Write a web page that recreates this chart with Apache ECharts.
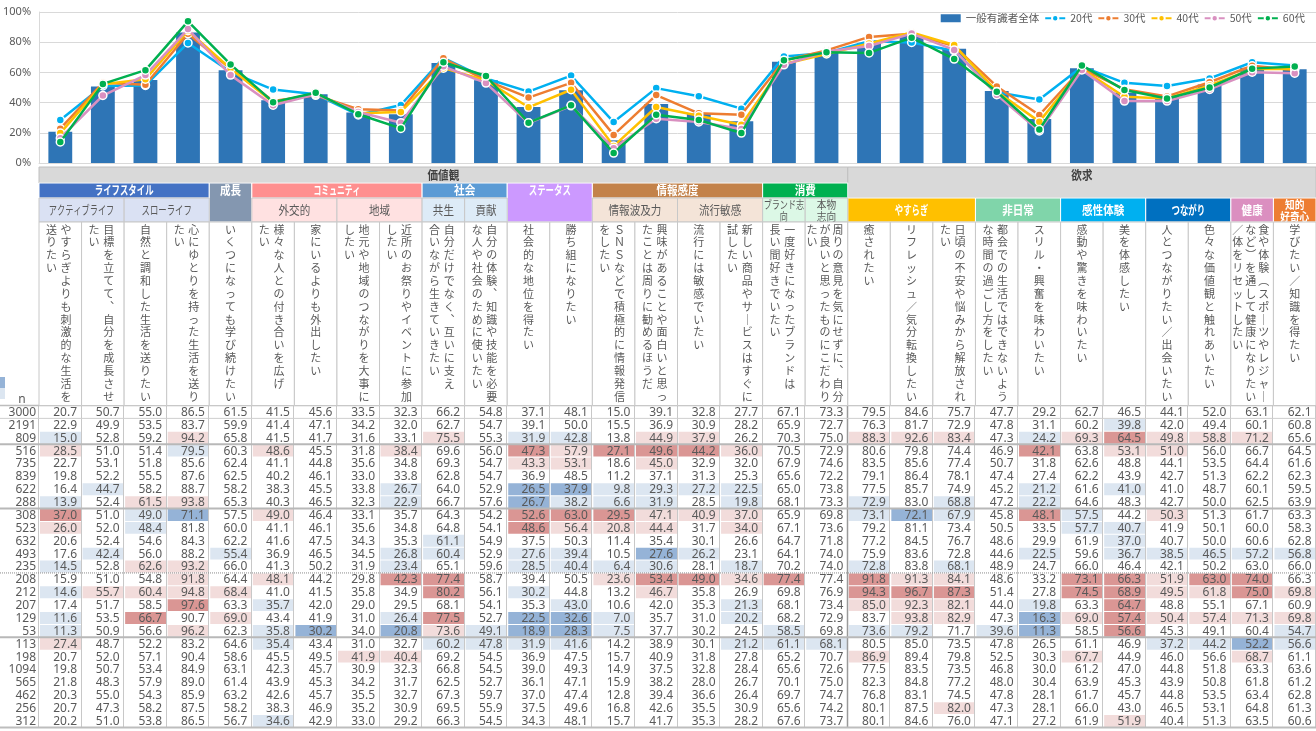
<!DOCTYPE html>
<html><head><meta charset="utf-8">
<script src="https://cdn.jsdelivr.net/npm/echarts@6/dist/echarts.min.js"></script>
<style>html,body{margin:0;padding:0;background:#fff}#c{width:1316px;height:731px}</style>
</head><body><div id="c"></div>
<script>
// ---------------- DATA ----------------
const BAR_NAME = '一般有識者全体';
const LINE_NAMES = ['20代', '30代', '40代', '50代', '60代'];
const Y_TICKS = [0, 20, 40, 60, 80, 100];

const N_VALUES = [3000, 2191, 809, 516, 735, 839, 622, 288, 308, 523, 632, 493, 235, 208, 212, 207, 129, 53, 113, 198, 1094, 565, 462, 256, 312];

const GROUP_TOTAL = [
  [20.7,50.7,55.0,86.5,61.5,41.5,45.6,33.5,32.3,66.2,54.8,37.1,48.1,15.0,39.1,32.8,27.7,67.1,73.3,79.5,84.6,75.7,47.7,29.2,62.7,46.5,44.1,52.0,63.1,62.1],
  [22.9,49.9,53.5,83.7,59.9,41.4,47.1,34.2,32.0,62.7,54.7,39.1,50.0,15.5,36.9,30.9,28.2,65.9,72.7,76.3,81.7,72.9,47.8,31.1,60.2,39.8,42.0,49.4,60.1,60.8],
  [15.0,52.8,59.2,94.2,65.8,41.5,41.7,31.6,33.1,75.5,55.3,31.9,42.8,13.8,44.9,37.9,26.2,70.3,75.0,88.3,92.6,83.4,47.3,24.2,69.3,64.5,49.8,58.8,71.2,65.6]
];
const GROUP_AGE = [
  [28.5,51.0,51.4,79.5,60.3,48.6,45.5,31.8,38.4,69.6,56.0,47.3,57.9,27.1,49.6,44.2,36.0,70.5,72.9,80.6,79.8,74.4,46.9,42.1,63.8,53.1,51.0,56.0,66.7,64.5],
  [22.7,53.1,51.8,85.6,62.4,41.1,44.8,35.6,34.8,69.3,54.7,43.3,53.1,18.6,45.0,32.9,32.0,67.9,74.6,83.5,85.6,77.4,50.7,31.8,62.6,48.8,44.1,53.5,64.4,61.6],
  [19.8,52.2,55.5,87.6,62.5,40.2,46.1,33.0,33.8,62.8,54.7,36.9,48.5,11.2,37.1,31.3,25.3,65.6,72.2,79.1,86.4,78.1,47.4,27.4,62.2,43.9,42.7,51.3,62.2,62.3],
  [16.4,44.7,58.2,88.7,58.2,38.3,45.5,33.8,26.7,64.0,52.9,26.5,37.9,9.8,29.3,27.2,22.5,65.0,73.8,77.5,85.7,74.9,45.2,21.2,61.6,41.0,41.0,48.7,60.1,59.5],
  [13.9,52.4,61.5,93.8,65.3,40.3,46.5,32.3,22.9,66.7,57.6,26.7,38.2,6.6,31.9,28.5,19.8,68.1,73.3,72.9,83.0,68.8,47.2,22.2,64.6,48.3,42.7,50.0,62.5,63.9]
];
const GROUP_B = [
  [37.0,51.0,49.0,71.1,57.5,49.0,46.4,33.1,35.7,64.3,54.2,52.6,63.0,29.5,47.1,40.9,37.0,65.9,69.8,73.1,72.1,67.9,45.8,48.1,57.5,44.2,50.3,51.3,61.7,63.3],
  [26.0,52.0,48.4,81.8,60.0,41.1,46.1,35.6,34.8,64.8,54.1,48.6,56.4,20.8,44.4,31.7,34.0,67.1,73.6,79.2,81.1,73.4,50.5,33.5,57.7,40.7,41.9,50.1,60.0,58.3],
  [20.6,52.4,54.6,84.3,62.2,41.6,47.5,34.3,35.3,61.1,54.9,37.5,50.3,11.4,35.4,30.1,26.6,64.7,71.8,77.2,84.5,76.7,48.6,29.9,61.9,37.0,40.7,50.0,60.6,62.8],
  [17.6,42.4,56.0,88.2,55.4,36.9,46.5,34.5,26.8,60.4,52.9,27.6,39.4,10.5,27.6,26.2,23.1,64.1,74.0,75.9,83.6,72.8,44.6,22.5,59.6,36.7,38.5,46.5,57.2,56.8],
  [14.5,52.8,62.6,93.2,66.0,41.3,50.2,31.9,23.4,65.1,59.6,28.5,40.4,6.4,30.6,28.1,18.7,70.2,74.0,72.8,83.8,68.1,48.9,24.7,66.0,46.4,42.1,50.2,63.0,66.0]
];
const GROUP_C = [
  [15.9,51.0,54.8,91.8,64.4,48.1,44.2,29.8,42.3,77.4,58.7,39.4,50.5,23.6,53.4,49.0,34.6,77.4,77.4,91.8,91.3,84.1,48.6,33.2,73.1,66.3,51.9,63.0,74.0,66.3],
  [14.6,55.7,60.4,94.8,68.4,41.0,41.5,35.8,34.9,80.2,56.1,30.2,44.8,13.2,46.7,35.8,26.9,69.8,76.9,94.3,96.7,87.3,51.4,27.8,74.5,68.9,49.5,61.8,75.0,69.8],
  [17.4,51.7,58.5,97.6,63.3,35.7,42.0,29.0,29.5,68.1,54.1,35.3,43.0,10.6,42.0,35.3,21.3,68.1,73.4,85.0,92.3,82.1,44.0,19.8,63.3,64.7,48.8,55.1,67.1,60.9],
  [11.6,53.5,66.7,90.7,69.0,43.4,41.9,31.0,26.4,77.5,52.7,22.5,32.6,7.0,35.7,31.0,20.2,68.2,72.9,83.7,93.8,82.9,47.3,16.3,69.0,57.4,50.4,57.4,71.3,69.8],
  [11.3,50.9,56.6,96.2,62.3,35.8,30.2,34.0,20.8,73.6,49.1,18.9,28.3,7.5,37.7,30.2,24.5,58.5,69.8,73.6,79.2,71.7,39.6,11.3,58.5,56.6,45.3,49.1,60.4,54.7]
];
const GROUP_D = [
  [27.4,48.7,52.2,83.2,64.6,35.4,43.4,31.0,32.7,60.2,47.8,31.9,41.6,14.2,38.9,30.1,21.2,61.1,68.1,80.5,85.0,73.5,47.8,26.5,61.1,46.9,37.2,44.2,52.2,56.6],
  [20.7,52.0,57.1,90.4,58.6,45.5,49.5,41.9,40.4,69.2,54.5,36.9,47.5,15.7,40.9,31.8,27.8,65.2,70.7,86.9,89.4,79.8,52.5,30.3,67.7,44.9,46.0,56.6,68.7,61.1],
  [19.8,50.7,53.4,84.9,63.1,42.3,45.7,30.9,32.3,66.8,54.5,39.0,49.3,14.9,37.5,32.8,28.4,65.6,72.6,77.5,83.5,73.5,46.8,30.0,61.2,47.0,44.8,51.8,63.3,63.6],
  [21.8,48.3,57.9,89.0,61.4,43.9,45.3,34.2,31.7,62.5,52.7,36.1,47.1,15.9,38.2,28.0,26.7,70.1,75.0,82.3,84.8,77.2,48.0,30.4,63.9,45.3,43.9,50.8,61.8,61.2],
  [20.3,55.0,54.3,85.9,63.2,42.6,45.7,35.5,32.7,67.3,59.7,37.0,47.4,12.8,39.4,36.6,26.4,69.7,74.7,76.8,83.1,74.5,47.8,28.1,61.7,45.7,44.8,53.5,63.4,62.8],
  [20.7,47.3,58.2,87.5,58.2,38.3,46.9,35.2,30.9,69.5,55.9,37.5,49.6,16.8,42.6,35.5,30.9,65.6,74.2,80.1,87.5,82.0,47.3,28.1,66.0,43.0,46.5,53.1,64.8,61.3],
  [20.2,51.0,53.8,86.5,56.7,34.6,42.9,33.0,29.2,66.3,54.5,34.3,48.1,15.7,41.7,35.3,28.2,67.6,73.7,80.1,84.6,76.0,47.1,27.2,61.9,51.9,40.4,51.3,63.5,60.6]
];

// column header texts (vertical lines, right-most first)
const COLUMN_TEXT = [
  ['やすらぎよりも刺激的な生活を','送りたい'],
  ['目標を立てて、自分を成長させ','たい'],
  ['自然と調和した生活を送りたい'],
  ['心にゆとりを持った生活を送り','たい'],
  ['いくつになっても学び続けたい'],
  ['様々な人との付き合いを広げ','たい'],
  ['家にいるよりも外出したい'],
  ['地元や地域のつながりを大事に','したい'],
  ['近所のお祭りやイベントに参加','したい'],
  ['自分だけでなく、互いに支え','合いながら生きていきたい'],
  ['自分の体験、知識や技能を必要','な人や社会のために使いたい'],
  ['社会的な地位を得たい'],
  ['勝ち組になりたい'],
  ['ＳＮＳなどで積極的に情報発信','をしたい'],
  ['興味があることや面白いと思っ','たことは周りに勧めるほうだ'],
  ['流行には敏感でいたい'],
  ['新しい商品やサービスはすぐに','試したい'],
  ['一度好きになったブランドは','長い間好きでいたい'],
  ['周りの意見を気にせずに、自分','が良いと思ったものにこだわり','たい'],
  ['癒されたい'],
  ['リフレッシュ／気分転換したい'],
  ['日頃の不安や悩みから解放され','たい'],
  ['都会での生活ではできないよう','な時間の過ごし方をしたい'],
  ['スリル・興奮を味わいたい'],
  ['感動や驚きを味わいたい'],
  ['美を体感したい'],
  ['人とつながりたい／出会いたい'],
  ['色々な価値観と触れあいたい'],
  ['食や体験（スポーツやレジャー','など）を通して健康になりたい','／体をリセットしたい'],
  ['学びたい／知識を得たい']
];
const TOP_GROUPS = [['価値観', 0, 18], ['欲求', 19, 29]];
const CATEGORIES = [
  ['ライフスタイル', 0, 3], ['成長', 4, 4], ['コミュニティ', 5, 8], ['社会', 9, 10],
  ['ステータス', 11, 12], ['情報感度', 13, 16], ['消費', 17, 18],
  ['やすらぎ', 19, 21], ['非日常', 22, 23], ['感性体験', 24, 25], ['つながり', 26, 27],
  ['健康', 28, 28], ['知的\n好奇心', 29, 29]
];
const SUBCATS = [
  ['アクティブライフ', 0, 1], ['スローライフ', 2, 3], ['外交的', 5, 6], ['地域', 7, 8],
  ['共生', 9, 9], ['貢献', 10, 10], ['情報波及力', 13, 14], ['流行敏感', 15, 16],
  ['ブランド志\n向', 17, 17], ['本物\n志向', 18, 18]
];
const ROW_BREAKS = [0, 2, 7, 12, 17];

// ---------------- STYLE ----------------
const CAT_COLORS = {
  'ライフスタイル': ['#4472c4', '#dae1f3'], '成長': ['#8497b0', null], 'コミュニティ': ['#ff8f8f', '#ffe1e1'],
  '社会': ['#5b9bd5', '#ddebf7'], 'ステータス': ['#cc99ff', null], '情報感度': ['#c3824a', '#f4e4d8'],
  '消費': ['#00b050', '#dcf8e6'], 'やすらぎ': ['#ffc000'], '非日常': ['#80d5aa'], '感性体験': ['#00b0f0'],
  'つながり': ['#0070c0'], '健康': ['#db8fc0'], '知的\n好奇心': ['#ed7d31']
};
const LINE_COLORS = ['#00b0f0', '#ed7d31', '#ffc000', '#d990c0', '#00b050'];
const FONT_NUM = '"Noto Sans", "Noto Sans CJK JP", sans-serif';
const FONT_JP = '"Noto Sans CJK JP", sans-serif';
const TXT = '#595959';

const ALL_ROWS = [].concat(GROUP_TOTAL, GROUP_AGE, GROUP_B, GROUP_C, GROUP_D);
const BASE = GROUP_TOTAL[0];
const COLS = COLUMN_TEXT.map((t, i) => 'c' + i);
const ROWS = N_VALUES.map(String);

function cellFill(c, r, v) {
  if (r === 0) return null;
  const d = Math.round((v - BASE[c]) * 10) / 10;
  if (d >= 10) return '#da9694';
  if (d >= 5) return '#f2dcdb';
  if (d <= -10) return '#95b3d7';
  if (d <= -5) return '#dce6f1';
  return null;
}
function vert(s) {
  return s.replace(/ー/g, '｜').replace(/（/g, '︵').replace(/）/g, '︶').replace(/、/g, '︑').split('').join('\n');
}
// condense factor emulating the narrower UI font of the original
function condense(text) {
  const lines = text.split('\n');
  let best = 1;
  lines.forEach(l => {
    let w = 0;
    for (const ch of l) {
      if (/[\u4e00-\u9fff々]/.test(ch)) w += 0.88;
      else if (/[ァィゥェォッャュョぁぃぅぇぉっゃゅょ]/.test(ch)) w += 0.55;
      else w += 0.7;
    }
    best = Math.min(best, w / Math.max(1, l.length));
  });
  return best;
}

const cellData = [];
ALL_ROWS.forEach((row, r) => row.forEach((v, c) => cellData.push([c, r, v])));
const nData = N_VALUES.map((n, r) => [0, r, n]);

function geo(api) {
  const s = api.size([1, 1]);
  const colW = s[0], rowH = s[1];
  const colL = c => api.coord([c, 0])[0] - colW / 2;
  const colR = c => api.coord([c, 0])[0] + colW / 2;
  const top = api.coord([0, 0])[1] - rowH / 2;
  return { colW, rowH, colL, colR, top };
}

function renderCell(params, api) {
  const c = api.value(0), r = api.value(1), v = api.value(2);
  const p = api.coord([c, r]);
  const s = api.size([1, 1]);
  const x0 = p[0] - s[0] / 2, y0 = p[1] - s[1] / 2;
  const ch = [];
  const f = cellFill(c, r, v);
  if (f) ch.push({ type: 'rect', shape: { x: x0 + 1, y: y0 + 0.5, width: s[0] - 1.5, height: s[1] - 1 }, style: { fill: f } });
  ch.push({ type: 'text', style: { text: v.toFixed(1), x: x0 + s[0] - 4.5, y: p[1] + 0.5, align: 'right', verticalAlign: 'middle', font: '12px ' + FONT_NUM, fill: TXT } });
  return { type: 'group', children: ch };
}
function renderN(params, api) {
  const r = api.value(1), n = api.value(2);
  const p = api.coord([0, r]);
  const s = api.size([1, 1]);
  return { type: 'text', style: { text: String(n), x: p[0] - s[0] / 2 - 3, y: p[1] + 0.5, align: 'right', verticalAlign: 'middle', font: '12px ' + FONT_NUM, fill: TXT } };
}
function renderLines(params, api) {
  const g = geo(api);
  const nR = N_VALUES.length, nC = COLS.length;
  const bottom = g.top + nR * g.rowH;
  const right = g.colR(nC - 1);
  const ch = [];
  const hl = (y, w, col, dash) => ch.push({ type: 'line', shape: { x1: 0, y1: y, x2: right, y2: y }, style: { stroke: col, lineWidth: w, lineDash: dash || null } });
  for (let c = 0; c <= nC; c++) {
    const x = Math.round(c < nC ? g.colL(c) : right) - 0.5;
    const strong = c === 19;
    ch.push({ type: 'line', shape: { x1: x, y1: g.top, x2: x, y2: bottom }, style: { stroke: strong ? '#9a9a9a' : '#c8c8c8', lineWidth: strong ? 1.5 : 1 } });
  }
  hl(g.top, 1.5, '#bdbdbd');
  ROW_BREAKS.forEach(r => {
    const y = g.top + (r + 1) * g.rowH;
    if (r === 0) hl(y, 1, '#cfcfcf');
    else if (r === 12) hl(y, 1, '#8c8c8c', [1, 1]);
    else hl(y, 2, '#b8b8b8');
  });
  hl(bottom, 2, '#bdbdbd');
  return { type: 'group', children: ch };
}
function renderHeader(params, api) {
  const g = geo(api);
  const H = [16, 15, 24, 183.5];
  const y = [];
  y[4] = g.top; y[3] = y[4] - H[3]; y[2] = y[3] - H[2]; y[1] = y[2] - H[1]; y[0] = y[1] - H[0];
  const ch = [];
  const box = (c0, c1, ya, yb, fill, stroke) => ch.push({ type: 'rect', shape: { x: g.colL(c0), y: ya, width: g.colR(c1) - g.colL(c0), height: yb - ya }, style: { fill: fill, stroke: stroke || '#c8c8c8', lineWidth: 1 } });
  const label = (c0, c1, yc, text, color, bold, size) => ch.push({
    type: 'text', x: (g.colL(c0) + g.colR(c1)) / 2, y: yc, scaleX: condense(text),
    style: { text: text, x: 0, y: 0, align: 'center', verticalAlign: 'middle', font: (bold ? 'bold ' : '') + (size || 11) + 'px ' + FONT_JP, fill: color, lineHeight: (size || 11) + 1 }
  });
  // top groups
  TOP_GROUPS.forEach(([name, c0, c1]) => {
    const yb = c0 === 0 ? y[1] : y[2];
    box(c0, c1, y[0], yb, '#d9d9d9', '#c0c0c0');
    label(c0, c1, (y[0] + y[1]) / 2, name, '#404040', true, 12);
  });
  // categories
  CATEGORIES.forEach(([name, c0, c1]) => {
    const col = CAT_COLORS[name];
    if (c1 <= 18) {
      const hasSub = SUBCATS.some(s => s[1] >= c0 && s[2] <= c1);
      box(c0, c1, y[1], hasSub ? y[2] : y[3], col[0], '#ffffff');
      label(c0, c1, (y[1] + y[2]) / 2, name, '#ffffff', true, 12);
    } else {
      box(c0, c1, y[2], y[3], col[0], '#ffffff');
      const two = name.indexOf('\n') >= 0;
      label(c0, c1, (y[2] + y[3]) / 2 + 0.5, name, '#ffffff', true, two ? 11 : 12);
    }
  });
  // subcategories
  SUBCATS.forEach(([name, c0, c1]) => {
    const parent = CATEGORIES.find(k => c0 >= k[1] && c1 <= k[2]);
    const fill = CAT_COLORS[parent[0]][1];
    box(c0, c1, y[2], y[3], fill, '#c8c8c8');
    const two = name.indexOf('\n') >= 0;
    label(c0, c1, (y[2] + y[3]) / 2 + 0.5, name, TXT, false, two ? 11 : 12);
  });
  // vertical question texts
  COLUMN_TEXT.forEach((lines, c) => {
    box(c, c, y[3], y[4], '#ffffff', '#c8c8c8');
    const k = lines.length;
    const sp = k === 3 ? 13 : 14.6;
    const cx = (g.colL(c) + g.colR(c)) / 2 - (k > 1 ? 1.5 : 0);
    lines.forEach((ln, i) => {
      ch.push({ type: 'text', style: { text: vert(ln), x: cx + ((k - 1) / 2 - i) * sp, y: y[3] + 0.9, align: 'center', verticalAlign: 'top', lineHeight: 12.87, font: '11px ' + FONT_JP, fill: TXT } });
    });
  });
  // n label
  ch.push({ type: 'text', style: { text: 'n', x: g.colL(0) - 17, y: y[4] - 6, align: 'center', verticalAlign: 'middle', font: '12px ' + FONT_NUM, fill: TXT } });
  return { type: 'group', children: ch };
}

const chart = echarts.init(document.getElementById('c'), null, { renderer: 'canvas' });
const lineSeries = LINE_NAMES.map((name, i) => ({
  name: name, type: 'line', xAxisIndex: 0, yAxisIndex: 0, data: GROUP_AGE[i],
  symbol: 'circle', symbolSize: 8, z: 3 + i,
  lineStyle: { color: LINE_COLORS[i], width: 2.5 },
  itemStyle: { color: LINE_COLORS[i], borderColor: '#ffffff', borderWidth: 1.5 }
}));
chart.setOption({
  animation: false,
  textStyle: { fontFamily: FONT_JP },
  legend: {
    top: 8, right: 6, itemWidth: 20, itemHeight: 8, itemGap: 5,
    textStyle: { color: TXT, fontSize: 10.5, fontFamily: FONT_JP },
    data: [{ name: BAR_NAME, icon: 'rect' }].concat(LINE_NAMES)
  },
  grid: [
    { left: 39, right: 0, top: 12, height: 151 },
    { left: 39, right: 0, top: 405.5, height: 322 }
  ],
  xAxis: [
    { type: 'category', gridIndex: 0, data: COLS, axisLabel: { show: false }, axisTick: { show: false }, axisLine: { lineStyle: { color: '#d9d9d9' } } },
    { type: 'category', gridIndex: 1, data: COLS, show: false }
  ],
  yAxis: [
    { type: 'value', gridIndex: 0, min: Y_TICKS[0], max: Y_TICKS[Y_TICKS.length - 1], interval: Y_TICKS[1] - Y_TICKS[0],
      axisLabel: { formatter: '{value}%', color: TXT, fontSize: 11, margin: 8, fontFamily: FONT_NUM },
      splitLine: { lineStyle: { color: '#d9d9d9' } }, axisLine: { show: true, lineStyle: { color: '#d9d9d9' } } },
    { type: 'category', gridIndex: 1, data: ROWS, inverse: true, show: false }
  ],
  graphic: [
    { type: 'rect', left: 0, top: 377, shape: { width: 5, height: 11 }, style: { fill: '#95b3d7' } },
    { type: 'rect', left: 0, top: 388, shape: { width: 5, height: 11 }, style: { fill: '#dce6f1' } }
  ],
  series: [
    { name: BAR_NAME, type: 'bar', xAxisIndex: 0, yAxisIndex: 0, data: BASE, barWidth: '56%', itemStyle: { color: '#2e75b6' }, z: 2 }
  ].concat(lineSeries).concat([
    { type: 'custom', xAxisIndex: 1, yAxisIndex: 1, data: cellData, renderItem: renderCell, z: 1, silent: true },
    { type: 'custom', xAxisIndex: 1, yAxisIndex: 1, data: nData, renderItem: renderN, z: 1, silent: true },
    { type: 'custom', xAxisIndex: 1, yAxisIndex: 1, data: [[0, 0]], renderItem: renderLines, z: 2, silent: true },
    { type: 'custom', xAxisIndex: 1, yAxisIndex: 1, data: [[0, 0]], renderItem: renderHeader, z: 3, silent: true }
  ])
});
</script></body></html>
